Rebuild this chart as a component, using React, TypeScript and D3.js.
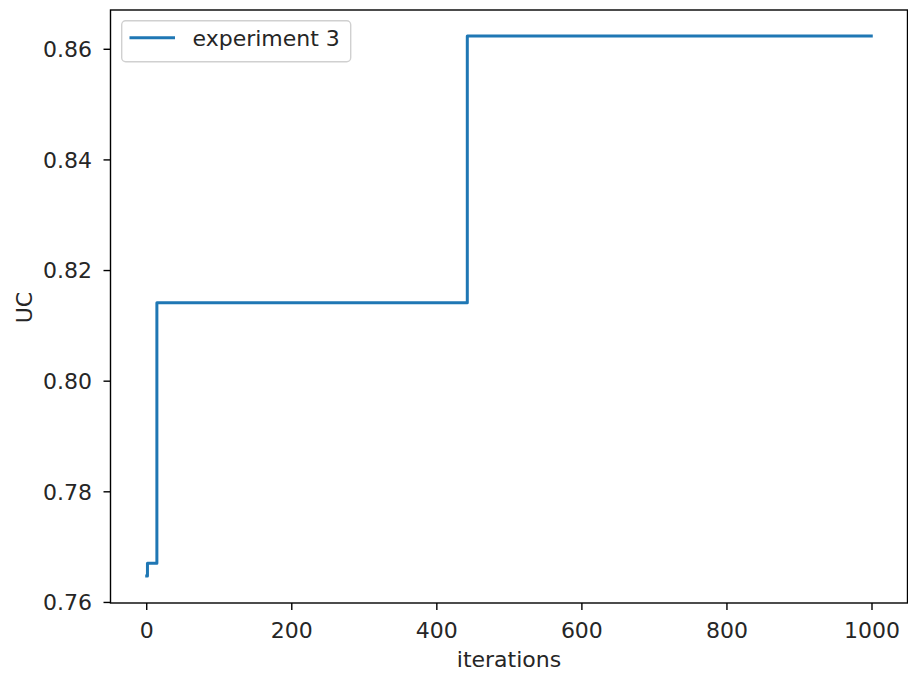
import React from "react";
import * as d3 from "d3";

// Change points of the "experiment 3" series (iteration where value changes, new value)
const changeIterations = [0, 1, 14, 442];
const changeValues = [0.7648, 0.7671, 0.8142, 0.8624];
const lastIteration = 999;
const seriesName = "experiment 3";
const xTicks = [0, 200, 400, 600, 800, 1000];
const yTicks = [0.76, 0.78, 0.8, 0.82, 0.84, 0.86];
const xLabel = "iterations";
const yLabel = "UC";

const W = 908;
const H = 677;
const M = { left: 110.5, right: 907.5, top: 10, bottom: 603 };
const FONT = "'DejaVu Sans', sans-serif";
const FS = 22;
const BLUE = "#1f77b4";

export default function App() {
  const x = d3.scaleLinear().domain([-49.95, 1048.95]).range([M.left, M.right]);
  const y = d3.scaleLinear().domain([0.7599, 0.8671]).range([M.bottom, M.top]);

  const pts: [number, number][] = changeIterations.map((it, i) => [it, changeValues[i]]);
  pts.push([lastIteration, changeValues[changeValues.length - 1]]);

  const line = d3
    .line<[number, number]>()
    .x((d) => x(d[0]))
    .y((d) => y(d[1]))
    .curve(d3.curveStepAfter);

  const tickLen = 7;
  return (
    <svg
      width={W}
      height={H}
      style={{ position: "absolute", left: 0, top: 0, background: "#fff" }}
      fontFamily={FONT}
    >
      <rect x={0} y={0} width={W} height={H} fill="#fff" />
      <defs>
        <clipPath id="plot">
          <rect x={M.left} y={M.top} width={M.right - M.left} height={M.bottom - M.top} />
        </clipPath>
      </defs>
      <path
        d={line(pts) || ""}
        fill="none"
        stroke={BLUE}
        strokeWidth={3}
        strokeLinejoin="round"
        strokeLinecap="square"
        clipPath="url(#plot)"
      />
      {/* spines */}
      <rect
        x={M.left}
        y={M.top}
        width={M.right - M.left}
        height={M.bottom - M.top}
        fill="none"
        stroke="#000"
        strokeWidth={1.4}
      />
      {/* x ticks */}
      {xTicks.map((t) => (
        <g key={"x" + t}>
          <line x1={x(t)} x2={x(t)} y1={M.bottom} y2={M.bottom + tickLen} stroke="#000" strokeWidth={1.4} />
          <text x={x(t)} y={637.8} textAnchor="middle" fontSize={FS} fill="#262626">
            {t}
          </text>
        </g>
      ))}
      {/* y ticks */}
      {yTicks.map((t) => (
        <g key={"y" + t}>
          <line x1={M.left - tickLen} x2={M.left} y1={y(t)} y2={y(t)} stroke="#000" strokeWidth={1.4} />
          <text x={92} y={y(t)} dy="0.36em" textAnchor="end" fontSize={FS} fill="#262626">
            {t.toFixed(2)}
          </text>
        </g>
      ))}
      <text x={(M.left + M.right) / 2} y={666.8} textAnchor="middle" fontSize={FS} fill="#262626">
        {xLabel}
      </text>
      <text
        transform={`translate(31.5, ${(M.top + M.bottom) / 2 + 1}) rotate(-90)`}
        textAnchor="middle"
        fontSize={FS}
        fill="#262626"
      >
        {yLabel}
      </text>
      {/* legend */}
      <rect x={121.7} y={20.7} width={229} height={41} rx={4} fill="#fff" fillOpacity={0.8} stroke="#d0d0d0" strokeWidth={1.4} />
      <line x1={129.5} x2={175} y1={37.7} y2={37.7} stroke={BLUE} strokeWidth={3} />
      <text x={192.5} y={45.5} fontSize={FS} fill="#262626">
        {seriesName}
      </text>
    </svg>
  );
}
